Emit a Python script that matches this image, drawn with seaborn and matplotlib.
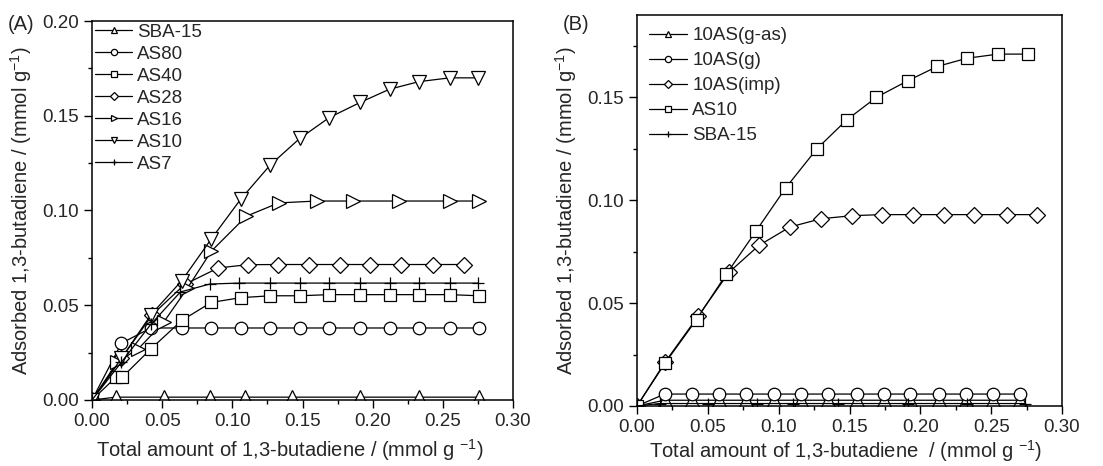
import numpy as np
import pandas as pd
import matplotlib
matplotlib.use('Agg')
import matplotlib.pyplot as plt
from matplotlib.ticker import MultipleLocator, AutoMinorLocator
import seaborn as sns

sns.set_style('ticks')
plt.rcParams['font.family'] = ['Liberation Sans', 'DejaVu Sans']
plt.rcParams['mathtext.default'] = 'regular'

# ---- panel (A) data ----
a_sba15_x = [0, 0.017, 0.051, 0.084, 0.109, 0.1425, 0.191, 0.233, 0.276]
a_sba15_y = [0, 0.0015, 0.0015, 0.0015, 0.0015, 0.0015, 0.0015, 0.0015, 0.0015]

a_as80_x = [0, 0.021, 0.042, 0.064, 0.085, 0.106, 0.127, 0.148, 0.169, 0.191, 0.212, 0.233, 0.255, 0.276]
a_as80_y = [0, 0.030, 0.038, 0.038, 0.038, 0.038, 0.038, 0.038, 0.038, 0.038, 0.038, 0.038, 0.038, 0.038]

a_as40_x = [0, 0.017, 0.0215, 0.042, 0.064, 0.085, 0.106, 0.127, 0.148, 0.169, 0.191, 0.212, 0.233, 0.255, 0.276]
a_as40_y = [0, 0.012, 0.012, 0.027, 0.042, 0.0515, 0.054, 0.055, 0.055, 0.0556, 0.0556, 0.0556, 0.0556, 0.0556, 0.055]

a_as28_x = [0, 0.021, 0.043, 0.066, 0.090, 0.111, 0.1325, 0.1546, 0.1765, 0.198, 0.2204, 0.243, 0.265]
a_as28_y = [0, 0.022, 0.045, 0.061, 0.0697, 0.0714, 0.0715, 0.0715, 0.0715, 0.0715, 0.0715, 0.0715, 0.0715]

a_as16_x = [0, 0.018, 0.033, 0.051, 0.068, 0.085, 0.110, 0.133, 0.160, 0.186, 0.219, 0.255, 0.276]
a_as16_y = [0, 0.020, 0.027, 0.041, 0.059, 0.0785, 0.097, 0.104, 0.105, 0.105, 0.105, 0.105, 0.105]

a_as10_x = [0, 0.021, 0.042, 0.064, 0.085, 0.106, 0.127, 0.148, 0.169, 0.191, 0.212, 0.233, 0.255, 0.275]
a_as10_y = [0, 0.022, 0.045, 0.063, 0.085, 0.106, 0.124, 0.138, 0.149, 0.157, 0.164, 0.168, 0.170, 0.170]

a_as7_x = [0, 0.021, 0.042, 0.063, 0.084, 0.105, 0.127, 0.148, 0.169, 0.191, 0.212, 0.233, 0.255, 0.275]
a_as7_y = [0, 0.020, 0.040, 0.057, 0.0612, 0.0617, 0.0617, 0.0617, 0.0617, 0.0617, 0.0617, 0.0617, 0.0617, 0.0617]

# ---- panel (B) data ----
b_gas_x = [0, 0.0195, 0.039, 0.058, 0.077, 0.097, 0.116, 0.135, 0.155, 0.174, 0.193, 0.213, 0.232, 0.251, 0.270]
b_gas_y = [0, 0.0028, 0.0028, 0.0028, 0.0028, 0.0028, 0.0028, 0.0028, 0.0028, 0.0028, 0.0028, 0.0028, 0.0028, 0.0028, 0.0028]

b_g_x = [0, 0.0195, 0.039, 0.058, 0.077, 0.097, 0.116, 0.135, 0.155, 0.174, 0.193, 0.213, 0.232, 0.251, 0.270]
b_g_y = [0, 0.0058, 0.0058, 0.0058, 0.0058, 0.0058, 0.0058, 0.0058, 0.0058, 0.0058, 0.0058, 0.0058, 0.0058, 0.0058, 0.0058]

b_imp_x = [0, 0.020, 0.043, 0.065, 0.086, 0.108, 0.130, 0.152, 0.173, 0.195, 0.217, 0.238, 0.261, 0.282]
b_imp_y = [0, 0.0215, 0.0435, 0.065, 0.078, 0.087, 0.091, 0.0925, 0.093, 0.093, 0.093, 0.093, 0.093, 0.093]

b_as10_x = [0, 0.020, 0.042, 0.063, 0.084, 0.105, 0.127, 0.148, 0.169, 0.191, 0.212, 0.233, 0.255, 0.276]
b_as10_y = [0, 0.021, 0.042, 0.064, 0.085, 0.106, 0.125, 0.139, 0.150, 0.158, 0.165, 0.169, 0.171, 0.171]

b_sba15_x = [0, 0.016, 0.050, 0.0845, 0.110, 0.142, 0.191, 0.233, 0.274]
b_sba15_y = [0, 0.0012, 0.0012, 0.0012, 0.0012, 0.0012, 0.0012, 0.0012, 0.0012]

series_a = [('SBA-15', a_sba15_x, a_sba15_y, '^'),
            ('AS80', a_as80_x, a_as80_y, 'o'),
            ('AS40', a_as40_x, a_as40_y, 's'),
            ('AS28', a_as28_x, a_as28_y, 'D'),
            ('AS16', a_as16_x, a_as16_y, '>'),
            ('AS10', a_as10_x, a_as10_y, 'v'),
            ('AS7', a_as7_x, a_as7_y, '+')]

series_b = [('10AS(g-as)', b_gas_x, b_gas_y, '^'),
            ('10AS(g)', b_g_x, b_g_y, 'o'),
            ('10AS(imp)', b_imp_x, b_imp_y, 'D'),
            ('AS10', b_as10_x, b_as10_y, 's'),
            ('SBA-15', b_sba15_x, b_sba15_y, '+')]

msize = {'^': 9.5, 'v': 9.5, '>': 9.5, 'o': 9, 's': 8, 'D': 8, '+': 9}

fig = plt.figure(figsize=(11.03, 4.66), dpi=100)
axA = fig.add_axes([92/1103, 66/466, 421/1103, 379/466])
axB = fig.add_axes([637/1103, 60/466, 425/1103, 391/466])


def draw(ax, series):
    for lab, xs, ys, m in series:
        df = pd.DataFrame({'x': xs, 'y': ys})
        sns.lineplot(data=df, x='x', y='y', ax=ax, color='k', marker=m,
                     markersize=msize[m], markerfacecolor='white',
                     markeredgecolor='k', markeredgewidth=0.9,
                     linewidth=0.9, label=lab, sort=False, estimator=None)


def style(ax, ymax):
    ax.set_xlim(0, 0.30)
    ax.set_ylim(0, ymax)
    ax.xaxis.set_major_locator(MultipleLocator(0.05))
    ax.yaxis.set_major_locator(MultipleLocator(0.05))
    ax.xaxis.set_minor_locator(AutoMinorLocator(2))
    ax.yaxis.set_minor_locator(AutoMinorLocator(2))
    ax.xaxis.set_major_formatter(plt.FormatStrFormatter('%.2f'))
    ax.yaxis.set_major_formatter(plt.FormatStrFormatter('%.2f'))
    ax.tick_params(which='major', direction='out', length=5.5, width=1,
                   labelsize=13.5, pad=4, top=False, right=False, color='k')
    ax.tick_params(which='minor', direction='out', length=3, width=1,
                   top=False, right=False, color='k')
    for sp in ax.spines.values():
        sp.set_linewidth(1.1)
        sp.set_color('k')
        sp.set_visible(True)
    ax.set_ylabel('Adsorbed 1,3-butadiene / (mmol g$^{-1}$)', fontsize=14.5, labelpad=6)


draw(axA, series_a)
style(axA, 0.20)
axA.set_xlabel('Total amount of 1,3-butadiene / (mmol g $^{-1}$)', fontsize=14.5)
axA.xaxis.set_label_coords(0.47, -0.098)
axA.legend(loc='upper left', frameon=False, fontsize=13.5, markerscale=0.5,
           handlelength=2.0, handletextpad=0.25, labelspacing=0.26,
           borderaxespad=0.1, borderpad=0.05)

draw(axB, series_b)
style(axB, 0.19)
axB.set_xlabel('Total amount of 1,3-butadiene  / (mmol g $^{-1}$)', fontsize=14.5)
axB.xaxis.set_label_coords(0.49, -0.082)
axB.legend(loc='upper left', frameon=False, fontsize=13.5, markerscale=0.5,
           handlelength=2.0, handletextpad=0.3, labelspacing=0.42,
           borderaxespad=0.35, borderpad=0.3)

fig.text(8/1103, 1 - 30/466, '(A)', fontsize=14.5)
fig.text(563/1103, 1 - 30/466, '(B)', fontsize=14.5)

fig.savefig('out.png', dpi=100, facecolor='white')
